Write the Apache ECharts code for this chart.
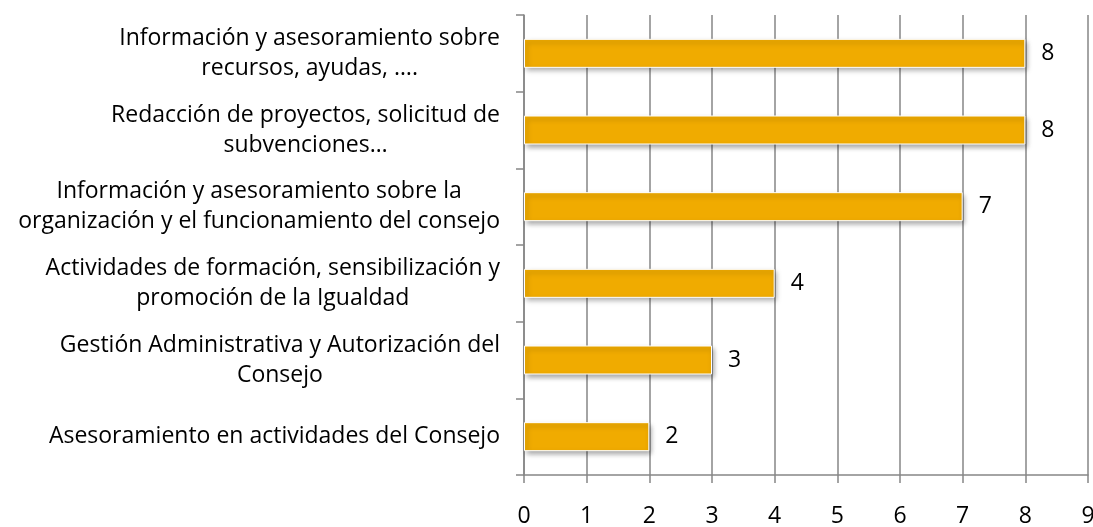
<!DOCTYPE html>
<html>
<head>
<meta charset="utf-8">
<script src="https://cdn.jsdelivr.net/npm/echarts@6/dist/echarts.min.js"></script>
<style>
	html, body { margin: 0; padding: 0; background: #fff; }
	#chart { width: 1093px; height: 527px; }
</style>
</head>
<body>
<div id="chart"></div>
<script>
	// categories, top to bottom
	var categories = [
		'Información y asesoramiento sobre\nrecursos, ayudas, ….',
		'Redacción de proyectos, solicitud de\nsubvenciones…',
		'Información y asesoramiento sobre la\norganización y el funcionamiento del consejo',
		'Actividades de formación, sensibilización y\npromoción de la Igualdad',
		'Gestión Administrativa y Autorización del\nConsejo',
		'Asesoramiento en actividades del Consejo'
	];
	var values = [8, 8, 7, 4, 3, 2];
	var xTicks = [0, 1, 2, 3, 4, 5, 6, 7, 8, 9];

	var font = '"Open Sans", Lato, sans-serif';
	var chart = echarts.init(document.getElementById('chart'));

	var option = {
		animation: false,
		grid: {
			left: 524,
			right: 5,
			top: 15,
			bottom: 52,
			outerBoundsMode: 'none'
		},
		xAxis: {
			type: 'value',
			min: xTicks[0],
			max: xTicks[xTicks.length - 1],
			interval: 1,
			axisLine: { show: true, lineStyle: { color: '#868686', width: 1.5 } },
			axisTick: { show: true, length: 8, lineStyle: { color: '#868686', width: 1.5 } },
			splitLine: { show: true, lineStyle: { color: '#868686', width: 1.5 } },
			axisLabel: {
				margin: 30,
				fontSize: 23,
				color: '#000',
				fontFamily: font
			}
		},
		yAxis: {
			type: 'category',
			inverse: true,
			data: categories,
			axisLine: { show: true, lineStyle: { color: '#868686', width: 1.5 } },
			axisTick: { show: true, length: 8, lineStyle: { color: '#868686', width: 1.5 } },
			axisLabel: {
				margin: 24,
				formatter: function (v) {
					// center each line inside the label block
					return v.split('\n').map(function (s) { return '{c|' + s + '}'; }).join('\n');
				},
				rich: {
					c: {
						align: 'center',
						fontSize: 23,
						lineHeight: 30,
						color: '#000',
						fontFamily: font
					}
				}
			}
		},
		series: [{
			type: 'bar',
			data: values,
			barWidth: 29,
			itemStyle: {
				color: '#F0AB00',
				borderColor: '#ffffff',
				borderWidth: 1,
				shadowColor: 'rgba(0,0,0,0.35)',
				shadowBlur: 5,
				shadowOffsetX: 2,
				shadowOffsetY: 3
			},
			label: {
				show: true,
				position: 'right',
				distance: 16,
				fontSize: 23,
				color: '#000',
				fontFamily: font
			}
		}]
	};
	chart.setOption(option);
</script>
</body>
</html>
